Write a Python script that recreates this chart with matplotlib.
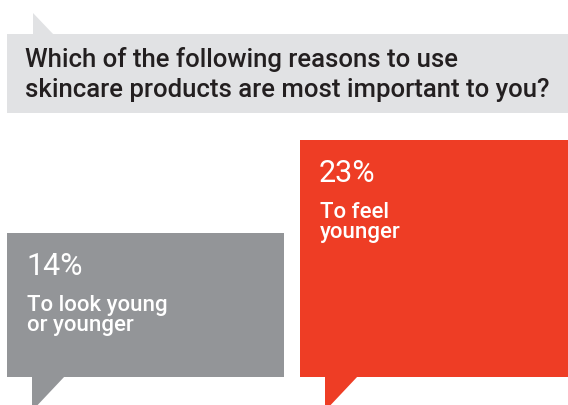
import matplotlib.pyplot as plt
from matplotlib.patches import Polygon, Rectangle

# survey answers
question = ["Which of the following reasons to use",
            "skincare products are most important to you?"]
pct = [14, 23]
reasons = [["To look young", "or younger"], ["To feel", "younger"]]
colors = ["#939598", "#ee3d25"]

W, H = 568, 405
plt.rcParams['font.family'] = ['Roboto', 'DejaVu Sans']

fig = plt.figure(figsize=(W / 100, H / 100), dpi=100)

# pixel-unit layer for the speech-bubble shapes
bg = fig.add_axes([0, 0, 1, 1])
bg.set_xlim(0, W)
bg.set_ylim(H, 0)
bg.axis('off')

# question bubble
bg.add_patch(Rectangle((7, 34), W - 7, 79, color="#e1e2e4", lw=0))
bg.add_patch(Polygon([(33, 35), (33, 13), (54, 35)], closed=True, color="#e1e2e4", lw=0))
for i, line in enumerate(question):
    bg.text(25, 67 + 30 * i, line, fontsize=18.5, fontweight='medium', color="#231f20",
            va='baseline', ha='left')

# bars sit on a baseline at y=377 px, 10.3 px per percent
base = 377
ppp = 10.3
ax = fig.add_axes([0, (H - base) / H, 1, base / H], zorder=2)
ax.patch.set_alpha(0)
ax.set_xlim(0, W)
ax.set_ylim(0, base / ppp)
ax.axis('off')

lefts = [7, 300]
widths = [277, W - 300]
ax.bar(lefts, pct, width=widths, align='edge', color=colors, lw=0)

# bubble tails under each bar
for x0, c in zip(lefts, colors):
    t = x0 + 25
    bg.add_patch(Polygon([(t, base - 1), (t + 33, base - 1), (t, base + 34)],
                         closed=True, color=c, lw=0))

for x0, v, lab in zip(lefts, pct, reasons):
    ax.annotate(f"{v}%", xy=(x0, v), xytext=(19, -42), textcoords='offset pixels',
                fontsize=22, fontweight='normal', color='white', va='baseline', ha='left')
    for i, line in enumerate(lab):
        ax.annotate(line, xy=(x0, v), xytext=(20, -78 - 20 * i), textcoords='offset pixels',
                    fontsize=16, fontweight='medium', color='white',
                    va='baseline', ha='left')

fig.savefig('out.png', dpi=100)
